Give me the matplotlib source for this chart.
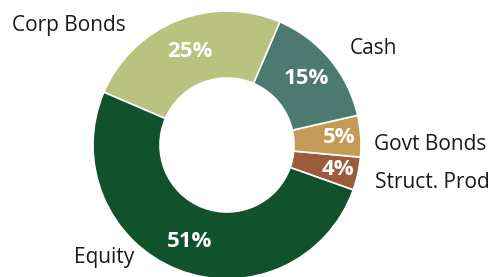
import numpy as np
import matplotlib
matplotlib.use('Agg')
import matplotlib.pyplot as plt

# slices in counter-clockwise order
labels = ['Struct. Prod', 'Govt Bonds', 'Cash', 'Corp Bonds', 'Equity']
values = [4, 5, 15, 25, 51]
colors = ['#9C5B3B', '#C49B56', '#4D7A70', '#B9C27F', '#10522B']
pct_text = ['4%', '5%', '15%', '25%', '51%']

plt.rcParams['font.family'] = ['Open Sans', 'DejaVu Sans']

W, H = 490, 277
R = 134.0          # outer radius in px
cx, cy = 227, 145  # centre in px from top-left

fig = plt.figure(figsize=(W / 100, H / 100), dpi=100)
ax = fig.add_axes([0, 0, 1, 1])
wedges, _ = ax.pie(values, colors=colors, startangle=-19.6, counterclock=True,
                   radius=1.0,
                   wedgeprops=dict(width=0.5, edgecolor='white', linewidth=1.2))
ax.set_xlim(-cx / R, (W - cx) / R)
ax.set_ylim(-(H - cy) / R, cy / R)
ax.set_aspect('equal')
ax.axis('off')

# percentage labels inside the ring
pct_r = [0.85, 0.84, 0.77, 0.75, 0.77]
for w, t, r in zip(wedges, pct_text, pct_r):
    a = np.deg2rad((w.theta1 + w.theta2) / 2)
    ax.text(r * np.cos(a), r * np.sin(a), t, ha='center', va='center',
            color='white', fontsize=16, fontweight='bold')

# outer category labels (px positions relative to the centre)
lab_pos = {
    'Struct. Prod': (205, -38),
    'Govt Bonds': (203, 1),
    'Cash': (146, 96),
    'Corp Bonds': (-158, 120),
    'Equity': (-123, -113),
}
for name in labels:
    dx, dy = lab_pos[name]
    ax.text(dx / R, dy / R, name, ha='center', va='center',
            color='#1a1a1a', fontsize=15)

fig.savefig('out.png', dpi=100)
